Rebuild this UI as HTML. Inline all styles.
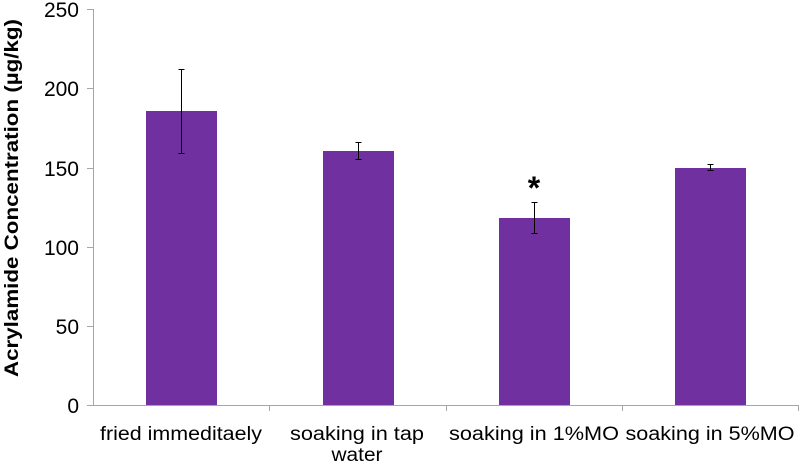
<!DOCTYPE html>
<html><head><meta charset="utf-8"><style>body{margin:0;background:#fff}</style></head><body>
<svg width="800" height="463" xmlns="http://www.w3.org/2000/svg" font-family="Liberation Sans, sans-serif">
<g stroke="#a6a6a6" stroke-width="1">
<line x1="93.5" y1="9" x2="93.5" y2="405"/>
<line x1="87" y1="405.5" x2="799" y2="405.5"/>
<line x1="87" y1="9.5" x2="93" y2="9.5"/><line x1="87" y1="88.5" x2="93" y2="88.5"/>
<line x1="87" y1="168.5" x2="93" y2="168.5"/><line x1="87" y1="247.5" x2="93" y2="247.5"/>
<line x1="87" y1="326.5" x2="93" y2="326.5"/>
<line x1="269.5" y1="405" x2="269.5" y2="411"/><line x1="446.5" y1="405" x2="446.5" y2="411"/>
<line x1="622.5" y1="405" x2="622.5" y2="411"/><line x1="798.5" y1="405" x2="798.5" y2="411"/>
</g>
<g font-size="21" fill="#000" text-anchor="end">
<text x="79" y="17">250</text><text x="79" y="96">200</text><text x="79" y="176">150</text>
<text x="79" y="255">100</text><text x="79" y="334">50</text><text x="79" y="413">0</text>
</g>
<text transform="translate(18,198) rotate(-90)" text-anchor="middle" font-size="19" font-weight="bold" textLength="358" lengthAdjust="spacingAndGlyphs">Acrylamide Concentration (µg/kg)</text>
<g fill="#7030a0">
<rect x="146" y="111" width="71" height="294"/>
<rect x="323" y="151" width="71" height="254"/>
<rect x="499" y="218" width="71" height="187"/>
<rect x="675" y="168" width="71" height="237"/>
</g>
<g stroke="#000" stroke-width="1">
<path d="M181.5 69V153M178.5 69.5h6M178.5 153.5h6"/>
<path d="M358.5 142V159M355.5 142.5h6M355.5 159.5h6"/>
<path d="M534.5 202V233M531.5 202.5h6M531.5 233.5h6"/>
<path d="M710.5 164V170M707.5 164.5h6M707.5 170.5h6"/>
</g>
<text x="534" y="199" text-anchor="middle" font-size="32" font-weight="bold">*</text>
<g font-size="19" fill="#000" text-anchor="middle">
<text x="181" y="440" textLength="162" lengthAdjust="spacingAndGlyphs">fried immeditaely</text>
<text x="357" y="440" textLength="134" lengthAdjust="spacingAndGlyphs">soaking in tap</text>
<text x="357" y="461" textLength="51" lengthAdjust="spacingAndGlyphs">water</text>
<text x="534" y="440" textLength="170" lengthAdjust="spacingAndGlyphs">soaking in 1%MO</text>
<text x="710" y="440" textLength="169" lengthAdjust="spacingAndGlyphs">soaking in 5%MO</text>
</g>
</svg>
</body></html>
